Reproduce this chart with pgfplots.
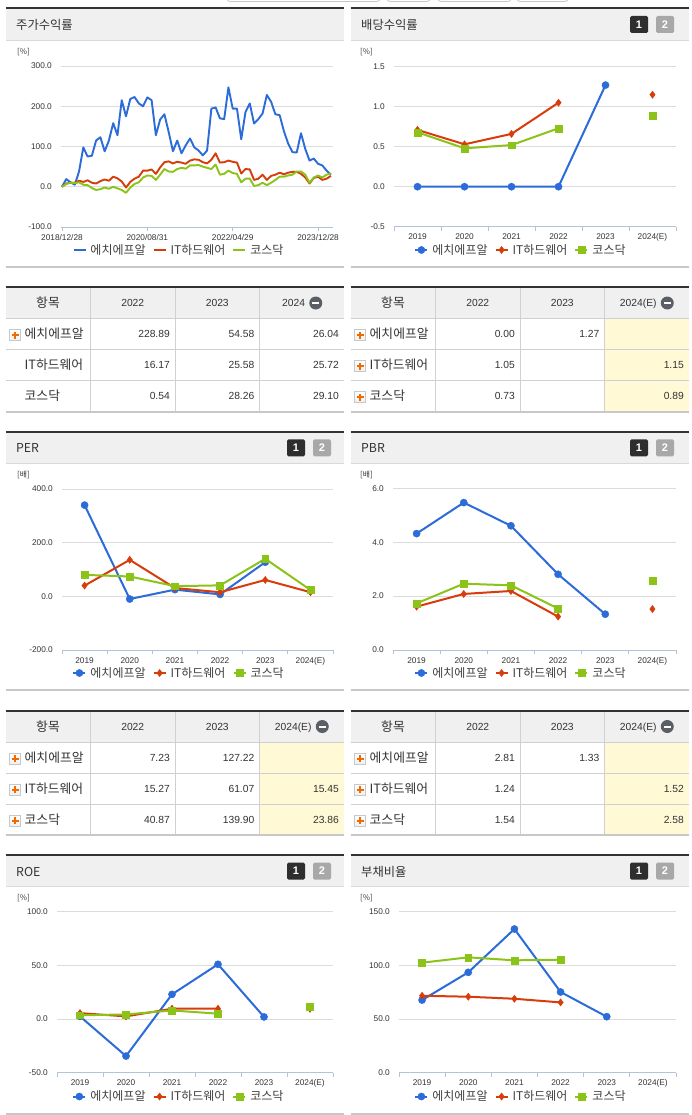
\documentclass[border=0pt]{standalone}
\usepackage{fontspec}
\setmainfont{Liberation Sans}
\newfontfamily\kr{Noto Sans CJK KR}
\usepackage{pgfplots}
\usepackage{pgfplotstable}
\pgfplotsset{compat=1.18}

\definecolor{cblue}{HTML}{2B6CD8}
\definecolor{cred}{HTML}{D73C0A}
\definecolor{cgreen}{HTML}{8CC319}
\definecolor{gridc}{HTML}{DCDCDC}
\definecolor{axisc}{HTML}{B4C4D8}
\definecolor{hdrc}{HTML}{F0F0F0}
\definecolor{hdrlinec}{HTML}{D9D9D9}
\definecolor{topc}{HTML}{333333}
\definecolor{botc}{HTML}{C8C8C8}
\definecolor{cellc}{HTML}{D0D0D0}
\definecolor{yel}{HTML}{FFF9D6}
\definecolor{tickc}{HTML}{333333}
\definecolor{legc}{HTML}{404040}
\definecolor{badgedark}{HTML}{2E2E2E}
\definecolor{badgegray}{HTML}{A8A8A8}
\definecolor{plusc}{HTML}{F06A00}
\definecolor{minusc}{HTML}{5A5F66}

% monthly index, 2018/12/28 = 0
\pgfplotstableread{
i blue red green
0 0 0 0
1 19 8 7
2 11 10 10
3 5 10 9
4 38 15 11
5 98 12 5
6 75 16 4
7 77 10 -3
8 115 8 -8
9 123 14 -6
10 88 18 -2
11 115 15 -5
12 158 25 0
13 128 21 -4
14 215 13 -8
15 175 -2 -15
16 218 12 -2
17 223 20 7
18 207 25 11
19 200 40 23
20 222 40 28
21 215 43 27
22 128 32 17
23 167 48 30
24 180 61 44
25 136 63 38
26 88 58 37
27 115 62 44
28 83 60 47
29 103 57 45
30 120 65 53
31 98 68 53
32 90 67 54
33 78 61 50
34 90 58 47
35 194 67 44
36 197 83 55
37 170 60 30
38 168 61 32
39 247 65 40
40 194 62 34
41 194 60 32
42 118 33 11
43 186 44 20
44 207 43 20
45 157 17 2
46 168 20 4
47 182 30 10
48 228 17 4
49 211 27 10
50 180 30 17
51 178 35 25
52 138 31 25
53 107 35 28
54 86 37 30
55 85 37 38
56 133 32 38
57 94 23 30
58 65 8 10
59 70 22 23
60 57 25 28
61 53 17 23
62 40 20 30
63 30 27 33
}\stockdata

\pgfplotsset{
  panel/.style={
    scale only axis, anchor=south west, clip=false,
    axis x line*=bottom, axis y line*=left,
    y axis line style={draw=none},
    x axis line style={draw=axisc, line width=0.9pt, -},
    ymajorgrids, grid style={draw=gridc, line width=0.8pt},
    major tick length=0pt, minor tick length=4pt,
    xtick align=outside,
    minor x tick style={draw=axisc, line width=0.9pt},
    ytick style={draw=none}, major x tick style={draw=none},
    tick label style={font=\fontsize{8.3}{9}\selectfont, text=tickc},
    yticklabel style={inner sep=0pt, xshift=-9pt},
    xticklabel style={inner sep=0pt, yshift=-7pt, text height=6pt, text depth=1.5pt},
    /pgf/number format/fixed, /pgf/number format/fixed zerofill,
    /pgf/number format/precision=1, /pgf/number format/assume math mode=true,
    unbounded coords=jump,
    legend style={draw=none, fill=none, legend columns=-1, anchor=center,
      font=\kr\fontsize{12}{14}\selectfont, text=legc, inner sep=0pt,
      nodes={inner sep=1pt},
      /tikz/every odd column/.append style={column sep=3pt},
      /tikz/every even column/.append style={column sep=6pt}},
    legend image code/.code={\draw[mark repeat=2,mark phase=2,##1]
      plot coordinates {(0pt,0pt) (6pt,0pt) (12pt,0pt)};},
  },
  cat/.style={
    xmin=-0.5, xmax=5.5, xtick={0,...,5},
    xticklabels={2019,2020,2021,2022,2023,2024(E)},
    minor xtick={-0.5,0.5,...,5.5},
  },
  sb/.style={color=cblue, line width=2pt, mark=*, mark size=3.6pt, mark options={line width=0.4pt}},
  sr/.style={color=cred, line width=2pt, mark=diamond*, mark size=3.6pt, mark options={line width=0.4pt}},
  sg/.style={color=cgreen, line width=2pt, mark=square*, mark size=3.4pt, mark options={line width=0.4pt}},
}

\tikzset{
  num/.style={font=\fontsize{10.3}{12}\selectfont, text=tickc, inner sep=0pt, text height=7.4pt, text depth=0pt},
  krt/.style={font=\kr\fontsize{12.8}{14}\selectfont, text=tickc, inner sep=0pt},
}

% panel frame: x0, x1, top, title
\newcommand\panel[4]{%
  \fill[hdrc] (#1,#3) rectangle (#2,#3+31.5);
  \draw[hdrlinec, line width=0.8pt] (#1,#3+31.5) -- (#2,#3+31.5);
  \draw[topc, line width=2pt] (#1,#3) -- (#2,#3);
  \draw[botc, line width=2pt] (#1,#3+258.5) -- (#2,#3+258.5);
  \node[anchor=west, inner sep=0pt, text=tickc, font=\kr\fontsize{12.3}{14}\selectfont] at (#1+10.5,#3+16.5) {#4};
}
% badges 1 2: left x, top
\newcommand\badges[2]{%
  \fill[badgedark, rounded corners=1.5pt] (#1,#2+7.5) rectangle ++(18,17);
  \node[text=white, inner sep=0pt, font=\bfseries\fontsize{11}{12}\selectfont] at (#1+9,#2+16) {1};
  \fill[badgegray, rounded corners=1.5pt] (#1+26,#2+7.5) rectangle ++(18,17);
  \node[text=white, inner sep=0pt, font=\bfseries\fontsize{11}{12}\selectfont] at (#1+35,#2+16) {2};
}
\newcommand\unit[3]{\node[anchor=west, inner sep=0pt, text=tickc, font=\kr\fontsize{7.8}{8}\selectfont] at (#1,#2) {#3};}

% table frame: x0, top, yellow flag
\newcommand\tblframe[3]{%
  \fill[hdrc] (#1,#2) rectangle ++(338.5,31.6);
  \ifnum#3=1 \fill[yel] (#1+254,#2+31.6) rectangle (#1+338.5,#2+124.6);\fi
  \foreach \c in {85,169.5,254} \draw[cellc, line width=0.8pt] (#1+\c,#2) -- (#1+\c,#2+124.6);
  \foreach \r in {31.6,62.6,93.6} \draw[cellc, line width=0.8pt] (#1,#2+\r) -- (#1+338.5,#2+\r);
  \draw[topc, line width=2pt] (#1,#2) -- ++(338.5,0);
  \draw[botc, line width=2pt] (#1,#2+124.6) -- ++(338.5,0);
}
% header: x0, top, col4 text, icon offset from col4 centre
\newcommand\tblhead[4]{%
  \node[krt] at (#1+42.5,#2+16) {항목};
  \node[num] at (#1+127.25,#2+16) {2022};
  \node[num] at (#1+211.75,#2+16) {2023};
  \fill[minusc] (#1+296.25+#4,#2+16) circle (6.5);
  \fill[white] (#1+296.25+#4-3.5,#2+15) rectangle ++(7,2);
  \node[num, anchor=east] at (#1+296.25+#4-10.5,#2+16) {#3};
}
\newcommand\plusicon[2]{%
  \shade[top color=white, bottom color=hdrc, draw=botc, line width=0.6pt] (#1-5.5,#2-5.5) rectangle ++(11,11);
  \fill[plusc] (#1-3.5,#2-1) rectangle ++(7,2);
  \fill[plusc] (#1-1,#2-3.5) rectangle ++(2,7);
}
% row: x0, row centre y, icon flag, label, v1, v2, v3
\newcommand\tblrow[7]{%
  \ifnum#3=1 \plusicon{#1+9.5}{#2+1}\fi
  \node[krt, anchor=west] at (#1+19,#2) {#4};
  \node[num, anchor=east] at (#1+164.5,#2) {#5};
  \node[num, anchor=east] at (#1+249,#2) {#6};
  \node[num, anchor=east] at (#1+333.5,#2) {#7};
}

\begin{document}
\begin{tikzpicture}
\begin{scope}[x=1pt,y=-1pt]
\useasboundingbox (0,0) rectangle (691,1115);
\fill[white] (0,0) rectangle (691,1115);
% cut buttons at the top edge
\foreach \a/\b in {227/380,387/430,438/511,517/568}
  \draw[botc, line width=0.8pt, rounded corners=3pt] (\a,-20) rectangle (\b,1.5);

% row 1
\panel{5.5}{343.5}{8.5}{주가수익률}
\panel{350.5}{689}{8.5}{배당수익률}
\badges{630}{8.5}
\unit{17}{52}{[\%]}
\unit{360}{52}{[\%]}

\tblframe{5.5}{287}{0}
\tblhead{5.5}{287}{2024}{14}
\tblrow{5.5}{334.1}{1}{에치에프알}{228.89}{54.58}{26.04}
\tblrow{5.5}{365.1}{0}{IT하드웨어}{16.17}{25.58}{25.72}
\tblrow{5.5}{396.1}{0}{코스닥}{0.54}{28.26}{29.10}

\tblframe{350.5}{287}{1}
\tblhead{350.5}{287}{2024(E)}{20.5}
\tblrow{350.5}{334.1}{1}{에치에프알}{0.00}{1.27}{}
\tblrow{350.5}{365.1}{1}{IT하드웨어}{1.05}{}{1.15}
\tblrow{350.5}{396.1}{1}{코스닥}{0.73}{}{0.89}

% row 2
\panel{5.5}{343.5}{431.8}{PER}
\panel{350.5}{689}{431.8}{PBR}
\badges{287}{431.8}
\badges{630}{431.8}
\unit{17}{475.3}{[배]}
\unit{360}{475.3}{[배]}

\tblframe{5.5}{710.5}{1}
\tblhead{5.5}{710.5}{2024(E)}{20.5}
\tblrow{5.5}{757.6}{1}{에치에프알}{7.23}{127.22}{}
\tblrow{5.5}{788.6}{1}{IT하드웨어}{15.27}{61.07}{15.45}
\tblrow{5.5}{819.6}{1}{코스닥}{40.87}{139.90}{23.86}

\tblframe{350.5}{710.5}{1}
\tblhead{350.5}{710.5}{2024(E)}{20.5}
\tblrow{350.5}{757.6}{1}{에치에프알}{2.81}{1.33}{}
\tblrow{350.5}{788.6}{1}{IT하드웨어}{1.24}{}{1.52}
\tblrow{350.5}{819.6}{1}{코스닥}{1.54}{}{2.58}

% row 3
\panel{5.5}{343.5}{855}{ROE}
\panel{350.5}{689}{855}{부채비율}
\badges{287}{855}
\badges{630}{855}
\unit{17}{898.5}{[\%]}
\unit{360}{898.5}{[\%]}
\end{scope}

% ---- stock return
\begin{axis}[panel, at={(61pt,-227pt)}, width=272pt, height=161pt,
  xmin=-0.23, xmax=63.5, ymin=-100, ymax=300, ytick={-100,0,100,200,300},
  xtick={0,20,40,60}, xticklabels={2018/12/28,2020/08/31,2022/04/29,2023/12/28},
  minor xtick={0,20,40,60},
  legend style={at={(axis description cs:0.432,-0.143)}}]
\addplot[cblue, line width=1.9pt, line join=round] table[x=i,y=blue]{\stockdata};
\addplot[cred, line width=1.9pt, line join=round] table[x=i,y=red]{\stockdata};
\addplot[cgreen, line width=1.9pt, line join=round] table[x=i,y=green]{\stockdata};
\legend{에치에프알,IT하드웨어,코스닥}
\end{axis}

% ---- dividend yield
\begin{axis}[panel, cat, at={(394pt,-226.7pt)}, width=282pt, height=160pt,
  ymin=-0.5, ymax=1.5, ytick={-0.5,0,0.5,1,1.5},
  legend style={at={(axis description cs:0.4486,-0.1456)}}]
\addplot[sb] coordinates {(0,0) (1,0) (2,0) (3,0) (4,1.27)};
\addplot[sr] coordinates {(0,0.71) (1,0.53) (2,0.66) (3,1.05) (4,nan) (5,1.15)};
\addplot[sg] coordinates {(0,0.68) (1,0.48) (2,0.52) (3,0.73) (4,nan) (5,0.89)};
\legend{에치에프알,IT하드웨어,코스닥}
\end{axis}

% ---- PER
\begin{axis}[panel, cat, at={(62pt,-650pt)}, width=271pt, height=161pt,
  ymin=-200, ymax=400, ytick={-200,0,200,400},
  legend style={at={(axis description cs:0.430,-0.1429)}}]
\addplot[sb] coordinates {(0,340) (1,-10) (2,25) (3,7.23) (4,127.22)};
\addplot[sr] coordinates {(0,40) (1,136) (2,31) (3,15.27) (4,61.07) (5,15.45)};
\addplot[sg] coordinates {(0,80) (1,74) (2,38) (3,40.87) (4,139.90) (5,23.86)};
\legend{에치에프알,IT하드웨어,코스닥}
\end{axis}

% ---- PBR
\begin{axis}[panel, cat, at={(393pt,-650pt)}, width=283pt, height=161.7pt,
  ymin=0, ymax=6, ytick={0,2,4,6},
  legend style={at={(axis description cs:0.4505,-0.1422)}}]
\addplot[sb] coordinates {(0,4.32) (1,5.47) (2,4.61) (3,2.81) (4,1.33)};
\addplot[sr] coordinates {(0,1.61) (1,2.08) (2,2.19) (3,1.24) (4,nan) (5,1.52)};
\addplot[sg] coordinates {(0,1.73) (1,2.46) (2,2.40) (3,1.54) (4,nan) (5,2.58)};
\legend{에치에프알,IT하드웨어,코스닥}
\end{axis}

% ---- ROE
\begin{axis}[panel, cat, at={(57pt,-1072.7pt)}, width=276pt, height=161pt,
  ymin=-50, ymax=100, ytick={-50,0,50,100},
  legend style={at={(axis description cs:0.440,-0.148)}}]
\addplot[sb] coordinates {(0,2.5) (1,-34.5) (2,23) (3,51) (4,2)};
\addplot[sr] coordinates {(0,5.5) (1,2.5) (2,9.6) (3,9.6) (4,nan) (5,9.5)};
\addplot[sg] coordinates {(0,3.5) (1,4.3) (2,8) (3,5) (4,nan) (5,11.8)};
\legend{에치에프알,IT하드웨어,코스닥}
\end{axis}

% ---- debt ratio
\begin{axis}[panel, cat, at={(399pt,-1072.7pt)}, width=277pt, height=161pt,
  ymin=0, ymax=150, ytick={0,50,100,150},
  legend style={at={(axis description cs:0.4386,-0.148)}}]
\addplot[sb] coordinates {(0,67.7) (1,93.5) (2,133.9) (3,75.2) (4,52.2)};
\addplot[sr] coordinates {(0,71.7) (1,70.8) (2,68.9) (3,65.5)};
\addplot[sg] coordinates {(0,102.5) (1,107.5) (2,104.7) (3,105.3)};
\legend{에치에프알,IT하드웨어,코스닥}
\end{axis}
\end{tikzpicture}
\end{document}
